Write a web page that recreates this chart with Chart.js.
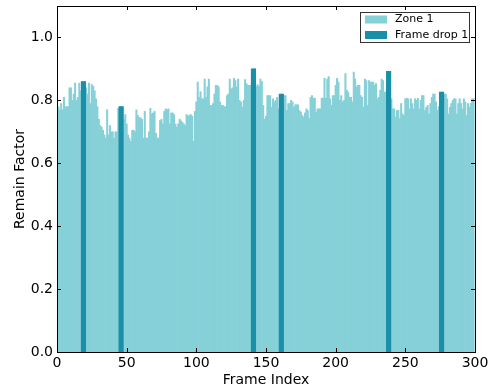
<!DOCTYPE html>
<html><head><meta charset="utf-8">
<script src="https://cdn.jsdelivr.net/npm/chart.js@4.4.1/dist/chart.umd.min.js"></script>
<style>html,body{margin:0;padding:0;background:#fff}#wrap{width:490px;height:390px;position:relative}</style>
</head><body><div id="wrap"><canvas id="c" width="490" height="390"></canvas></div>
<script>
// Remain factor per frame (frames 0..299)
const remainFactor = [
0.78,0.78,0.77,0.79,0.77,0.81,0.78,0.78,0.78,0.84,
0.84,0.80,0.82,0.855,0.80,0.81,0.855,0.83,0.86,0.86,
0.86,0.84,0.82,0.855,0.79,0.85,0.845,0.83,0.805,0.78,
0.74,0.72,0.715,0.705,0.69,0.68,0.77,0.69,0.72,0.70,
0.70,0.68,0.70,0.70,0.775,0.77,0.78,0.78,0.74,0.755,
0.725,0.69,0.68,0.67,0.705,0.705,0.70,0.77,0.752,0.745,
0.745,0.74,0.68,0.765,0.68,0.68,0.70,0.775,0.757,0.76,
0.765,0.695,0.68,0.68,0.736,0.74,0.725,0.765,0.773,0.77,
0.773,0.725,0.76,0.76,0.755,0.725,0.715,0.725,0.74,0.735,
0.73,0.725,0.72,0.755,0.75,0.752,0.755,0.75,0.67,0.765,
0.795,0.858,0.81,0.828,0.805,0.805,0.868,0.81,0.843,0.868,
0.784,0.784,0.79,0.82,0.848,0.848,0.843,0.795,0.784,0.784,
0.78,0.78,0.815,0.82,0.868,0.837,0.84,0.87,0.863,0.843,
0.868,0.80,0.795,0.778,0.80,0.866,0.853,0.848,0.848,0.848,
0.85,0.90,0.90,0.845,0.85,0.845,0.868,0.86,0.784,0.74,
0.75,0.815,0.815,0.815,0.778,0.805,0.795,0.80,0.81,0.773,
0.80,0.82,0.815,0.815,0.815,0.768,0.79,0.79,0.80,0.795,
0.778,0.786,0.786,0.786,0.768,0.763,0.752,0.747,0.76,0.773,
0.768,0.742,0.81,0.815,0.807,0.807,0.763,0.773,0.773,0.773,
0.807,0.807,0.87,0.807,0.868,0.876,0.805,0.784,0.815,0.815,
0.848,0.87,0.858,0.80,0.815,0.795,0.80,0.885,0.832,0.826,
0.81,0.81,0.795,0.89,0.868,0.843,0.848,0.848,0.815,0.81,
0.778,0.868,0.863,0.784,0.863,0.858,0.858,0.858,0.848,0.853,
0.805,0.81,0.832,0.868,0.863,0.826,0.826,0.85,0.892,0.85,
0.805,0.773,0.773,0.747,0.768,0.768,0.742,0.79,0.757,0.752,
0.805,0.807,0.805,0.773,0.805,0.79,0.773,0.805,0.80,0.807,
0.773,0.80,0.815,0.815,0.768,0.778,0.784,0.757,0.79,0.81,
0.82,0.82,0.795,0.768,0.78,0.80,0.826,0.82,0.82,0.82,
0.805,0.757,0.778,0.79,0.80,0.805,0.805,0.757,0.79,0.805,
0.79,0.773,0.805,0.795,0.752,0.79,0.778,0.79,0.805,0.805
];
const dropFrames = [19, 46, 141, 161, 238, 276];
const dropValues = [0.86, 0.78, 0.90, 0.82, 0.892, 0.826];
const xTicks = [0, 50, 100, 150, 200, 250, 300];
const yTicks = [0.0, 0.2, 0.4, 0.6, 0.8, 1.0];
const seriesNames = ['Zone 1', 'Frame drop 1'];

const LIGHT = '#86d0d8';
const DARK = '#1a8fa8';
const FONT = "'DejaVu Sans', sans-serif";

const framePlugin = {
  id: 'frame',
  afterDraw(chart) {
    const {ctx, chartArea: a, scales: {x, y}} = chart;
    ctx.save();
    ctx.strokeStyle = '#000';
    ctx.lineWidth = 1;
    ctx.beginPath();
    xTicks.forEach(v => {
      const px = Math.round(x.getPixelForValue(v)) + 0.5;
      ctx.moveTo(px, a.bottom); ctx.lineTo(px, a.bottom - 4);
      ctx.moveTo(px, a.top); ctx.lineTo(px, a.top + 4);
    });
    yTicks.forEach(v => {
      const py = Math.round(y.getPixelForValue(v)) + 0.5;
      ctx.moveTo(a.left, py); ctx.lineTo(a.left + 4, py);
      ctx.moveTo(a.right, py); ctx.lineTo(a.right - 4, py);
    });
    ctx.stroke();
    ctx.strokeRect(Math.round(a.left) + 0.5, Math.round(a.top) + 0.5,
      Math.round(a.right - a.left), Math.round(a.bottom - a.top));
    // legend
    const bx = 360, by = 12, bw = 109, bh = 30;
    ctx.fillStyle = '#fff';
    ctx.fillRect(bx, by, bw, bh);
    ctx.strokeStyle = '#333';
    ctx.strokeRect(bx + 0.5, by + 0.5, bw, bh);
    const rows = [[LIGHT, seriesNames[0], by + 7.5], [DARK, seriesNames[1], by + 23]];
    ctx.font = '11px ' + FONT;
    ctx.textBaseline = 'middle';
    ctx.textAlign = 'left';
    rows.forEach(([c, t, cy]) => {
      ctx.fillStyle = c;
      ctx.fillRect(bx + 5, cy - 4, 22, 8);
      ctx.fillStyle = '#000';
      ctx.fillText(t, bx + 35, cy);
    });
    ctx.restore();
  }
};

new Chart(document.getElementById('c'), {
  type: 'bar',
  data: {
    datasets: [
      {
        label: seriesNames[1],
        data: dropFrames.map((f, i) => ({x: f, y: dropValues[i]})),
        backgroundColor: DARK,
        barThickness: 4.5,
        grouped: false,
        order: 0
      },
      {
        label: seriesNames[0],
        data: remainFactor.map((v, i) => ({x: i, y: v})),
        backgroundColor: LIGHT,
        categoryPercentage: 1,
        barPercentage: 1,
        grouped: false,
        order: 1
      }
    ]
  },
  options: {
    responsive: false,
    animation: false,
    devicePixelRatio: 1,
    layout: {padding: {left: 0, right: 15, top: 6, bottom: 0}},
    plugins: {legend: {display: false}, tooltip: {enabled: false}},
    scales: {
      x: {
        type: 'linear', min: 0, max: 300, offset: false,
        grid: {display: false, drawTicks: false},
        border: {display: false},
        ticks: {stepSize: 50, autoSkip: false, maxRotation: 0, includeBounds: false,
          color: '#000', padding: 3, font: {family: FONT, size: 14}},
        title: {display: true, text: 'Frame Index', color: '#000',
          font: {family: FONT, size: 14}, padding: {top: 0, bottom: 1}},
        afterFit: s => { s.height = 38; s.paddingLeft = 0; s.paddingRight = 0; }
      },
      y: {
        type: 'linear', min: 0, max: 1.1,
        grid: {display: false, drawTicks: false},
        border: {display: false},
        ticks: {stepSize: 0.2, includeBounds: false, color: '#000', padding: 4,
          font: {family: FONT, size: 14}, callback: v => Number(v).toFixed(1)},
        title: {display: true, text: 'Remain Factor', color: '#000',
          font: {family: FONT, size: 14}, padding: {top: 12, bottom: 0}},
        afterFit: s => { s.width = 57; s.paddingTop = 0; s.paddingBottom = 0; }
      }
    }
  },
  plugins: [framePlugin]
});
</script>
</body></html>
